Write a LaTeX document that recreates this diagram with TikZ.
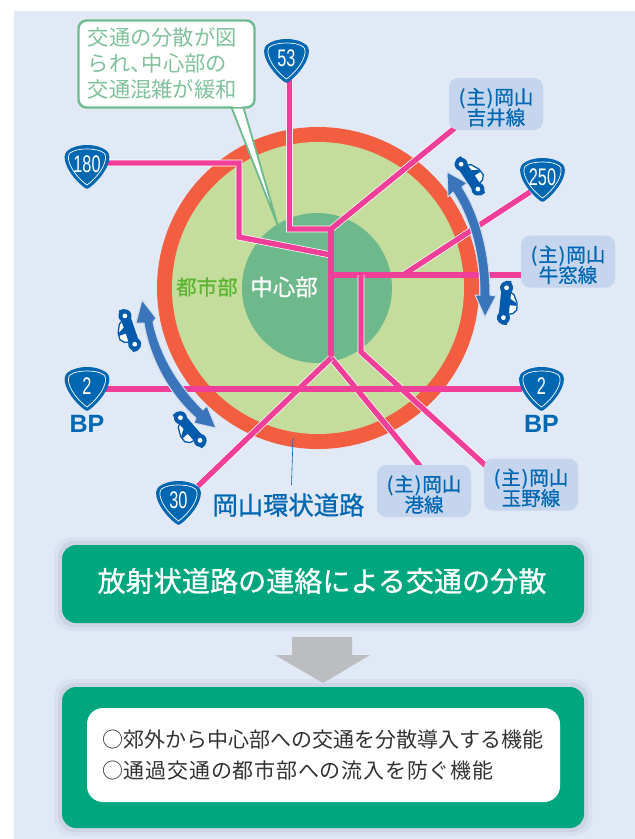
\documentclass[tikz,border=0pt]{standalone}
\usepackage{fontspec}
\usetikzlibrary{calc}
\setmainfont{Noto Sans CJK JP}
\newfontfamily\medf[FakeBold=0.8]{Noto Sans CJK JP}
\newfontfamily\numf{Liberation Sans}
\definecolor{panel}{HTML}{E1E8F6}
\definecolor{halo}{HTML}{D9E0EF}
\definecolor{halob}{HTML}{CDD4E4}
\definecolor{ringc}{HTML}{F45E40}
\definecolor{cityc}{HTML}{C4DD9C}
\definecolor{corec}{HTML}{6DB98B}
\definecolor{roadc}{HTML}{EF3F98}
\definecolor{blue1}{HTML}{0068B3}
\definecolor{carc}{HTML}{005BAC}
\definecolor{arrowc}{HTML}{3A75BB}
\definecolor{labelc}{HTML}{C6D5EE}
\definecolor{boxc}{HTML}{00A67E}
\definecolor{greyc}{HTML}{BCBDC0}
\definecolor{calloutc}{HTML}{6FBA8C}
\definecolor{calltext}{HTML}{7FC29B}
\definecolor{cityt}{HTML}{5CB531}
\definecolor{inktext}{HTML}{333333}
\newcommand{\fs}[2]{\lineskiplimit=-30pt\fontsize{#1}{#2}\selectfont}
\newcommand{\shu}{\rule{0pt}{23pt}(\kern1pt 主\kern1pt)\kern1pt}
\tikzset{
  x=1pt,y=-1pt,
  road/.style={draw=roadc,line width=5.4pt,line join=miter,preaction={draw=white,line width=6.8pt}},
  routelabel/.style={fill=labelc,rounded corners=9pt,minimum width=94pt,minimum height=52pt,inner sep=0pt,align=center,text=blue1,font=\medf\fs{19.5}{20.5}},
  bigarrow/.style={fill=arrowc,draw=arrowc!25!white,line width=1pt,line join=round},
  shield/.pic={
    \path[fill=blue1] (0,-22) .. controls (-8,-22) and (-15,-20) .. (-20,-16) .. controls (-23,-13) and (-23,-8) .. (-21,-3) .. controls (-18,6) and (-9,16) .. (-2,21) .. controls (-1,22) and (1,22) .. (2,21) .. controls (9,16) and (18,6) .. (21,-3) .. controls (23,-8) and (23,-13) .. (20,-16) .. controls (15,-20) and (8,-22) .. (0,-22) -- cycle;
    \draw[white,line width=.7pt] (0,-18) .. controls (-7,-18) and (-13,-17) .. (-17,-14) .. controls (-19,-12) and (-19,-8) .. (-17.5,-4) .. controls (-15,4) and (-7,13) .. (0,18) .. controls (7,13) and (15,4) .. (17.5,-4) .. controls (19,-8) and (19,-12) .. (17,-14) .. controls (13,-17) and (7,-18) .. (0,-18) -- cycle;
    \node[text=white,inner sep=0pt] (-c) at (0,-3) {\numf\fs{24}{24}\scalebox{.68}[1]{#1}};
  },
  car/.pic={
    \draw[fill=white,draw=carc,line width=1.3pt,line join=round] (-2,-13) -- (5,-9) -- (9,-1) -- (9.5,6) -- (6,10) -- (-2,12) -- cycle;
    \fill[carc] (-1,-6) -- (8,-1) -- (9,2) -- (-1,2) -- cycle;
    \fill[carc] (-8,-16) -- (-8,16) -- (-4,22) -- (1,22) -- (2,17) -- (2,-17) -- (1,-22) -- (-4,-22) -- cycle;
    \fill[carc] (-3,-15) circle (6.5pt) (-3,15) circle (6.5pt);
    \fill[white] (-3,-15) circle (2.4pt) (-3,15) circle (2.4pt);
  }
}
\begin{document}
\begin{tikzpicture}
\useasboundingbox (0,0) rectangle (635,839);
\fill[white] (0,0) rectangle (635,839);
\fill[panel] (14,11) rectangle (635,839);

% rings
\fill[ringc] (318,288) circle (161);
\fill[cityc] (318,288) circle (146);
\fill[corec] (317,288) circle (75);

% road coordinates
\coordinate (j1) at (331,229);
\coordinate (j2) at (331,275);
\coordinate (j3) at (331,358);
\coordinate (j4) at (361,275);
\coordinate (j5) at (361,352);
\coordinate (j6) at (403,275);
\coordinate (e53) at (289.5,78);
\coordinate (b53) at (289.5,229);
\coordinate (e180) at (105,163);
\coordinate (b180a) at (239,163);
\coordinate (b180b) at (239,237);
\coordinate (j180) at (331,255);
\coordinate (e250) at (530,192);
\coordinate (eyoshii) at (456,127);
\coordinate (eushi) at (522,275);
\coordinate (e30) at (198,486);
\coordinate (emin) at (420,466);
\coordinate (etam) at (486,466);
\coordinate (e2l) at (105,389);
\coordinate (e2r) at (522,389);

% roads
\draw[road] (e180) -- (b180a) -- (b180b) -- (j180);
\draw[road] (e53) -- (b53) -- (j1) -- (eyoshii);
\draw[road] (j6) -- (e250);
\draw[road] (j2) -- (eushi);
\draw[road] (j4) -- (j5) -- (etam);
\draw[road] (j1) -- (j3);
\draw[road] (j3) -- (emin);
\draw[road] (j3) -- (e30);
\draw[road] (e2l) -- (e2r);

% route label nodes
\node[routelabel] (yoshii) at (496,104) {\shu 岡山\\吉井線};
\node[routelabel] (ushimado) at (568,261.5) {\shu 岡山\\牛窓線};
\node[routelabel] (minato) at (424,491) {\shu 岡山\\港線};
\node[routelabel] (tamano) at (531,484.5) {\shu 岡山\\玉野線};

% callout
\coordinate (tailtip) at (278,226);
\coordinate (taila) at (231,106);
\coordinate (tailb) at (243,106);
\filldraw[fill=white,draw=calloutc,line width=1.8pt,line join=miter] (taila) -- (tailtip) -- (tailb) -- cycle;
\node[draw=calloutc,line width=2.4pt,fill=white,rounded corners=8pt,minimum width=176pt,minimum height=87pt,inner sep=0pt] (note) at (166.5,64) {};
\fill[white] ($(taila)+(2,-3)$) rectangle ($(tailb)+(-1.5,1)$);
\node[text=calltext,align=left,anchor=west,inner sep=0pt,font=\fs{21.3}{26}] (notetext) at (87.5,63) {交通の分散が図\\られ、\kern-10pt 中心部の\\交通混雑が緩和};

% place names
\node[text=cityt,font=\medf\fs{20.5}{22},inner sep=0pt] (toshibu) at (207,287) {都市部};
\node[text=white,font=\medf\fs{22.5}{24},inner sep=0pt] (chushin) at (284,287) {中心部};
\node[text=blue1,font=\medf\fs{25.3}{27},inner sep=0pt] (kanjo) at (288.5,505) {岡山環状道路};
\coordinate (leadA) at (293,438);
\coordinate (leadB) at (291.5,485);
\draw[blue1,line width=.6pt] (leadA) -- (leadB);

% double arrows
\filldraw[bigarrow] (447,172) -- (467,183) -- (462,187) .. controls (480,215) and (490,255) .. (490,295) -- (496,296) -- (485,317) -- (475,295) -- (480,295) .. controls (480,255) and (471,220) .. (453,192) -- (448,197) -- cycle;
\filldraw[bigarrow] (142,300) -- (156,318) -- (153,322) .. controls (160,355) and (178,385) .. (203,410) -- (207,406) -- (216,428) -- (194,423) -- (196,418) .. controls (170,395) and (150,360) .. (144,323) -- (136,323) -- cycle;

% shields
\pic (s53) at (286.5,61) {shield=53};
\pic (s180) at (87,167) {shield=180};
\pic (s250) at (542.5,180) {shield=250};
\pic (s2l) at (87,389) {shield=2};
\pic (s2r) at (541.5,389) {shield=2};
\pic (s30) at (178.5,503) {shield=30};
\node[text=blue1,font=\numf\fs{25}{25}\bfseries,inner sep=0pt] (bpl) at (87,424) {BP};
\node[text=blue1,font=\numf\fs{25}{25}\bfseries,inner sep=0pt] (bpr) at (541.5,424) {BP};

% cars
\pic[rotate=34] (car1) at (472,175) {car};
\pic[rotate=-6] (car2) at (508,303) {car};
\pic[rotate=19,xscale=-1] (car3) at (127,331) {car};
\pic[rotate=41,xscale=-1] (car4) at (188,431) {car};

% lower boxes
\fill[halo,rounded corners=18pt] (54,537) rectangle (592,631);
\fill[halob,rounded corners=16pt] (58,541) rectangle (588,627);
\node[fill=boxc,rounded corners=14pt,minimum width=522pt,minimum height=78pt,inner sep=0pt] (titlebox) at (323,584) {};
\node[text=white,font=\medf\fs{28.1}{30},inner sep=0pt] (title) at (322,581) {放射状道路の連絡による交通の分散};
\fill[halo,rounded corners=18pt] (54,679) rectangle (592,836);
\fill[halob,rounded corners=16pt] (58,683) rectangle (588,832);
\node[fill=boxc,rounded corners=14pt,minimum width=522pt,minimum height=141pt,inner sep=0pt] (funcbox) at (323,757.5) {};
\node[fill=white,rounded corners=16pt,minimum width=473pt,minimum height=94pt,inner sep=0pt] (inner) at (323.5,755) {};
\node[text=inktext,align=left,anchor=west,inner sep=0pt,font=\fs{21}{31}] (functext) at (102,755) {○郊外から中心部への交通を分散導入する機能\\\addfontfeature{LetterSpace=3.7}○通過交通の都市部への流入を防ぐ機能};
\fill[greyc] (292,637) -- (352,637) -- (352,655) -- (370,655) -- (323,683) -- (275,655) -- (292,655) -- cycle;
\end{tikzpicture}
\end{document}
